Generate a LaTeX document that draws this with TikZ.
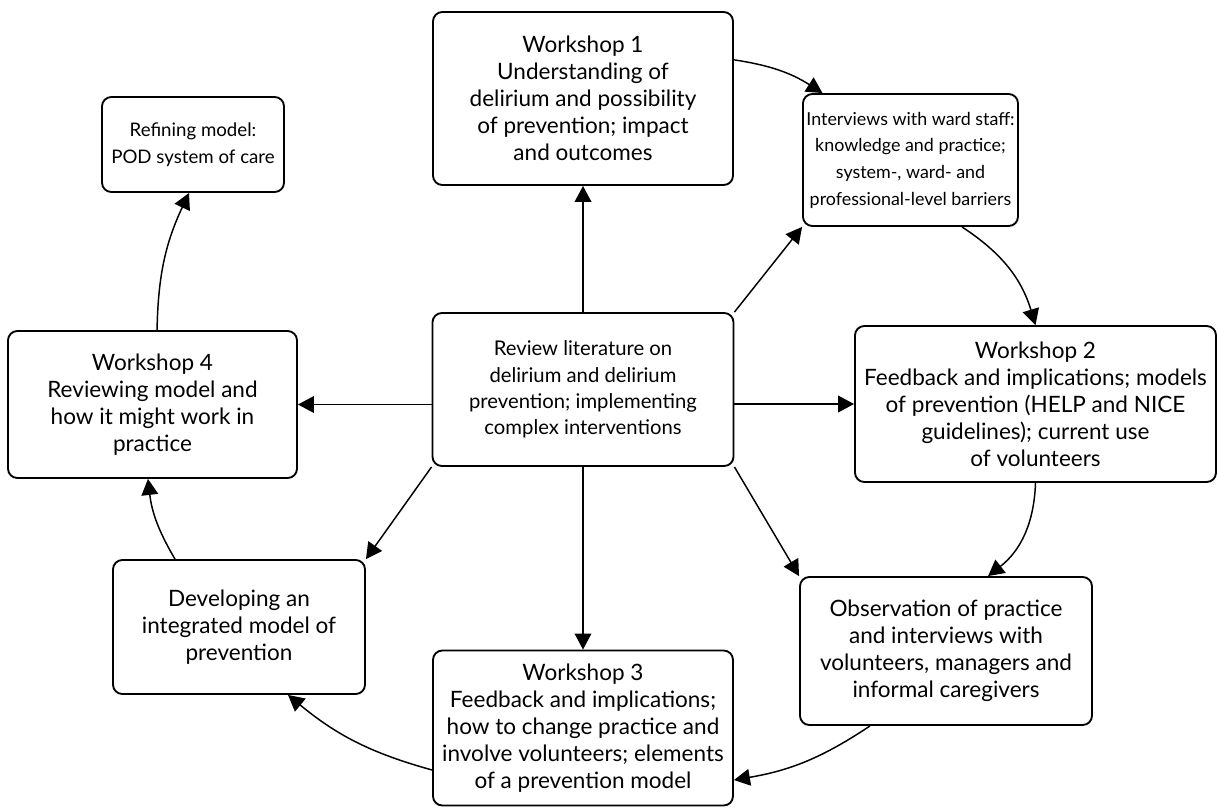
\documentclass[tikz,border=0pt]{standalone}
\usepackage{fontspec}
\setmainfont{Lato}
\usetikzlibrary{arrows.meta}
\tikzset{
  box/.style={draw, line width=1.4pt, rounded corners=7pt, align=center, inner sep=0pt,
    font=\fontsize{16.9}{20.2}\selectfont},
  midfont/.style={font=\fontsize{15.2}{19.8}\selectfont},
  smallfont/.style={font=\fontsize{14}{20}\selectfont},
  intfont/.style={font=\fontsize{13.4}{20}\selectfont},
  arr/.style={line width=1.1pt, -{Triangle[length=12pt,width=12.5pt]}},
}
\begin{document}
\begin{tikzpicture}[x=0.75pt,y=0.75pt]
\useasboundingbox (0,0) rectangle (1217,-807);
\node[box, minimum width=225pt, minimum height=129.75pt] (W1) at (583,-98.5)
  {Workshop 1\\Understanding of\\delirium and possibility\\of prevention; impact\\and outcomes};
\node[box, intfont, minimum width=161.25pt, minimum height=99pt] (Int) at (910.5,-160)
  {Interviews with ward staff:\\knowledge and practice;\\system-, ward- and\\professional-level barriers};
\node[box, smallfont, minimum width=136.5pt, minimum height=71.25pt] (Ref) at (193,-144.5)
  {Refining model:\\POD system of care};
\node[box, midfont, minimum width=225.75pt, minimum height=114.75pt] (Ctr) at (583,-389.5)
  {Review literature on\\delirium and delirium\\prevention; implementing\\complex interventions};
\node[box, minimum width=216.75pt, minimum height=110.25pt] (W4) at (152.5,-404.5)
  {Workshop 4\\Reviewing model and\\how it might work in\\practice};
\node[box, minimum width=270.75pt, minimum height=117pt] (W2) at (1035.5,-404)
  {Workshop 2\\Feedback and implications; models\\of prevention (HELP and NICE\\guidelines); current use\\of volunteers};
\node[box, minimum width=189pt, minimum height=100.5pt] (Dev) at (239,-627)
  {Developing an\\integrated model of\\prevention};
\node[box, minimum width=219pt, minimum height=111pt] (Obs) at (946,-651)
  {Observation of practice\\and interviews with\\volunteers, managers and\\informal caregivers};
\node[box, minimum width=225pt, minimum height=116.25pt] (W3) at (583,-728)
  {Workshop 3\\Feedback and implications;\\how to change practice and\\involve volunteers; elements\\of a prevention model};
% radial arrows
\draw[arr] (Ctr.north) -- (W1.south);
\draw[arr] (Ctr.north east) -- (Int.south west);
\draw[arr] (Ctr.east |- W2.west) -- (W2.west);
\draw[arr] (Ctr.south east) -- (Obs.north west);
\draw[arr] (Ctr.south) -- (W3.north);
\draw[arr] (Ctr.south west) -- (Dev.north east);
\draw[arr] (Ctr.west |- W4.east) -- (W4.east);
% cycle arrows
\draw[arr] ([yshift=29pt]W1.east) to[bend left=12] ([xshift=-66pt]Int.north);
\draw[arr] ([xshift=38.6pt]Int.south) to[bend left=20] (W2.north);
\draw[arr] (W2.south) to[bend left=25] ([xshift=31.5pt]Obs.north);
\draw[arr] ([xshift=-57pt]Obs.south) to[bend left=12] ([yshift=-39pt]W3.east);
\draw[arr] ([yshift=-31.5pt]W3.west) to[bend left=12] ([xshift=36.75pt]Dev.south);
\draw[arr] ([xshift=-48pt]Dev.north) to[bend left=12] ([xshift=-3.4pt]W4.south);
\draw[arr] ([xshift=3.4pt]W4.north) to[bend left=12] ([xshift=-3pt]Ref.south);
\end{tikzpicture}
\end{document}
